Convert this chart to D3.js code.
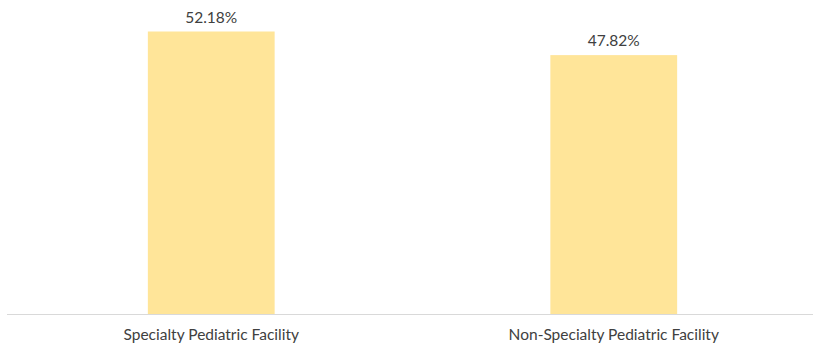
<!DOCTYPE html>
<html>
<head>
<meta charset="utf-8">
<script src="https://cdn.jsdelivr.net/npm/d3@7"></script>
<style>
  html, body { margin: 0; padding: 0; background: #ffffff; }
  svg { display: block; }
  text { font-family: Lato, "Open Sans", sans-serif; fill: #404040; }
</style>
</head>
<body>
<svg id="chart" width="813" height="346"></svg>
<script>
// Share of patients by facility type (%)
const categories = ["Specialty Pediatric Facility", "Non-Specialty Pediatric Facility"];
const shares = [52.18, 47.82];
const valueLabels = ["52.18%", "47.82%"];

const width = 813, height = 346;
const baseline = 314;

const svg = d3.select("#chart");

const x = d3.scaleBand()
  .domain(categories)
  .range([10, 815])
  .paddingInner(0.685)
  .paddingOuter(0.3425);

const y = d3.scaleLinear()
  .domain([0, 58])
  .range([baseline, 0]);

const data = categories.map((c, i) => ({ cat: c, value: shares[i], label: valueLabels[i] }));

// bars
svg.append("g")
  .selectAll("rect")
  .data(data)
  .join("rect")
  .attr("x", d => x(d.cat))
  .attr("y", d => y(d.value))
  .attr("width", x.bandwidth())
  .attr("height", d => baseline - y(d.value))
  .attr("fill", "#FFE599");

// category axis
const axis = svg.append("g")
  .attr("transform", `translate(0,${baseline})`)
  .call(d3.axisBottom(x).tickSize(0).tickPadding(0));
axis.select(".domain").remove();
axis.append("line")
  .attr("x1", 7).attr("x2", 813)
  .attr("y1", 0.5).attr("y2", 0.5)
  .attr("stroke", "#D9D9D9")
  .attr("stroke-width", 1);
axis.selectAll(".tick text")
  .attr("y", 26)
  .attr("dy", null)
  .attr("font-family", "Lato, 'Open Sans', sans-serif")
  .attr("font-size", 15.5)
  .attr("fill", "#404040");

// value labels
svg.append("g")
  .selectAll("text")
  .data(data)
  .join("text")
  .attr("x", d => x(d.cat) + x.bandwidth() / 2)
  .attr("y", d => y(d.value) - 9)
  .attr("text-anchor", "middle")
  .attr("font-size", 15.5)
  .text(d => d.label);
</script>
</body>
</html>
